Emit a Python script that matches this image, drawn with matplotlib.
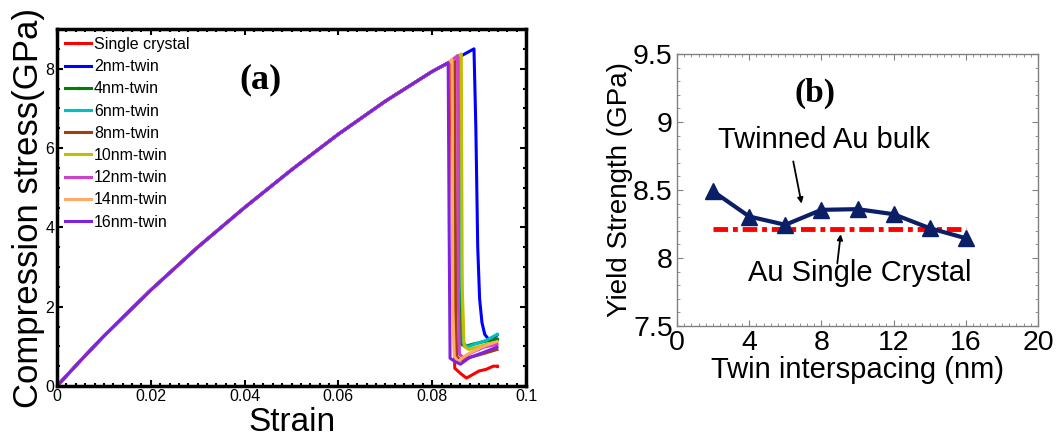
import numpy as np
import matplotlib
matplotlib.use("Agg")
import matplotlib.pyplot as plt
from matplotlib.ticker import MultipleLocator

plt.rcParams['font.family'] = ['Liberation Sans', 'DejaVu Sans']

# shared elastic loading path
load_strain = [0, 0.005, 0.01, 0.02, 0.03, 0.04, 0.05, 0.06, 0.07, 0.08, 0.0835]
load_stress = [0, 0.64, 1.26, 2.42, 3.5, 4.5, 5.45, 6.35, 7.18, 7.93, 8.15]

labels = ['Single crystal', '2nm-twin', '4nm-twin', '6nm-twin', '8nm-twin',
          '10nm-twin', '12nm-twin', '14nm-twin', '16nm-twin']
colors = ['#ff0000', '#0000ff', '#008000', '#00c0c0', '#a0400a',
          '#c0c000', '#d040c8', '#ffaa66', '#8020e0']
markers = ['.', None, '.', '.', None, None, None, None, None]

# peak point of each curve
peak_strain = [0.0840, 0.0889, 0.0856, 0.0860, 0.0848, 0.0862, 0.0854, 0.0842, 0.0834]
peak_stress = [8.18, 8.50, 8.31, 8.34, 8.25, 8.37, 8.33, 8.23, 8.15]

# post-yield part of each curve
post_strain = [
    [0.0843, 0.0848, 0.0860, 0.0873, 0.0885, 0.0900, 0.0915, 0.0930, 0.0938],
    [0.0893, 0.0897, 0.0901, 0.0906, 0.0912, 0.0920, 0.0930, 0.0938],
    [0.0858, 0.0862, 0.0870, 0.0885, 0.0910, 0.0938],
    [0.0862, 0.0866, 0.0875, 0.0890, 0.0915, 0.0938],
    [0.0850, 0.0852, 0.0860, 0.0880, 0.0910, 0.0938],
    [0.0864, 0.0868, 0.0878, 0.0895, 0.0915, 0.0938],
    [0.0856, 0.0858, 0.0866, 0.0885, 0.0910, 0.0938],
    [0.0844, 0.0847, 0.0855, 0.0875, 0.0905, 0.0938],
    [0.0836, 0.0838, 0.0848, 0.0860, 0.0880, 0.0910, 0.0938],
]
post_stress = [
    [4.0, 0.45, 0.32, 0.20, 0.28, 0.38, 0.42, 0.50, 0.50],
    [6.5, 3.5, 2.2, 1.6, 1.3, 1.18, 1.2, 1.28],
    [3.0, 1.05, 1.0, 1.05, 1.12, 1.18],
    [3.0, 1.1, 0.98, 1.05, 1.15, 1.3],
    [2.0, 0.75, 0.65, 0.72, 0.82, 0.92],
    [2.5, 1.0, 0.92, 0.98, 1.05, 1.1],
    [2.0, 0.8, 0.72, 0.85, 0.98, 1.05],
    [2.0, 0.75, 0.62, 0.8, 0.98, 1.12],
    [4.0, 0.70, 0.62, 0.55, 0.72, 0.85, 0.98],
]

# panel (b)
spacing = [2, 4, 6, 8, 10, 12, 14, 16]
yield_strength = [8.49, 8.305, 8.244, 8.354, 8.359, 8.322, 8.219, 8.145]
single_x = [2, 16]
single_y = [8.214, 8.214]

fig = plt.figure(figsize=(10.58, 4.41), dpi=100)
ax = fig.add_axes([0.0539, 0.1247, 0.4433, 0.8095])
bx = fig.add_axes([0.6399, 0.2608, 0.3412, 0.6168])

for i in range(len(labels)):
    ls = np.array(load_strain)
    keep = ls < peak_strain[i]
    xs = list(ls[keep]) + [peak_strain[i]] + post_strain[i]
    ys = list(np.array(load_stress)[keep]) + [peak_stress[i]] + post_stress[i]
    ax.plot(xs, ys, color=colors[i], lw=2.2, label=labels[i],
            marker=markers[i], markersize=3, markevery=[len(xs) - 1])

ax.set_xlim(0, 0.1)
ax.set_ylim(0, 9)
ax.set_xticks([0, 0.02, 0.04, 0.06, 0.08, 0.1])
ax.set_xticklabels(['0', '0.02', '0.04', '0.06', '0.08', '0.1'])
ax.set_yticks([0, 2, 4, 6, 8])
ax.xaxis.set_minor_locator(MultipleLocator(0.002))
ax.yaxis.set_minor_locator(MultipleLocator(0.5))
ax.tick_params(which='both', direction='in', top=True, right=True, labelsize=11.5, pad=2)
ax.tick_params(which='major', length=4, width=1.5)
ax.tick_params(which='minor', length=2, width=1.5)
for sp in ax.spines.values():
    sp.set_linewidth(2.5)
ax.set_xlabel('Strain', fontsize=24, labelpad=2)
ax.set_ylabel('Compression stress(GPa)', fontsize=25, labelpad=0)
ax.text(0.0433, 7.73, '(a)', fontsize=26, fontweight='bold', ha='center', va='center',
        family=['Liberation Serif', 'DejaVu Serif'])
ax.legend(loc='upper left', frameon=False, fontsize=11.5, handlelength=1.6,
          handletextpad=0.2, labelspacing=0.45, borderaxespad=0.2, borderpad=0.3)

bx.plot(single_x, single_y, color='#ff0000', lw=3.5, ls=(0, (3, 1, 1, 1)))
bx.plot(spacing, yield_strength, color='#0a1f66', lw=3, marker='^', markersize=11)
bx.set_xlim(0, 20)
bx.set_ylim(7.5, 9.5)
bx.set_xticks([0, 4, 8, 12, 16, 20])
bx.set_yticks([7.5, 8, 8.5, 9, 9.5])
bx.set_yticklabels(['7.5', '8', '8.5', '9', '9.5'])
bx.xaxis.set_minor_locator(MultipleLocator(0.4))
bx.yaxis.set_minor_locator(MultipleLocator(0.1))
bx.tick_params(which='both', direction='in', top=True, right=True, labelsize=20.5,
               colors='#808080', labelcolor='black', pad=3)
bx.tick_params(which='major', length=4)
bx.tick_params(which='minor', length=2)
for sp in bx.spines.values():
    sp.set_color('#808080')
    sp.set_linewidth(1)
bx.set_xlabel('Twin interspacing (nm)', fontsize=21, labelpad=0)
bx.set_ylabel('Yield Strength (GPa)', fontsize=20, labelpad=0)
bx.text(7.64, 9.21, '(b)', fontsize=24, fontweight='bold', ha='center', va='center',
        family=['Liberation Serif', 'DejaVu Serif'])
bx.text(8.15, 8.87, 'Twinned Au bulk', fontsize=21, ha='center', va='center')
bx.text(10.14, 7.89, 'Au Single Crystal', fontsize=21, ha='center', va='center')
arrow = dict(arrowstyle='-|>', color='black', lw=1.3, shrinkA=0, shrinkB=0,
             mutation_scale=8)
bx.annotate('', xy=(6.9, 8.40), xytext=(6.44, 8.71), arrowprops=arrow)
bx.annotate('', xy=(9.07, 8.175), xytext=(8.88, 7.96), arrowprops=arrow)

fig.savefig('out.png', dpi=100)
